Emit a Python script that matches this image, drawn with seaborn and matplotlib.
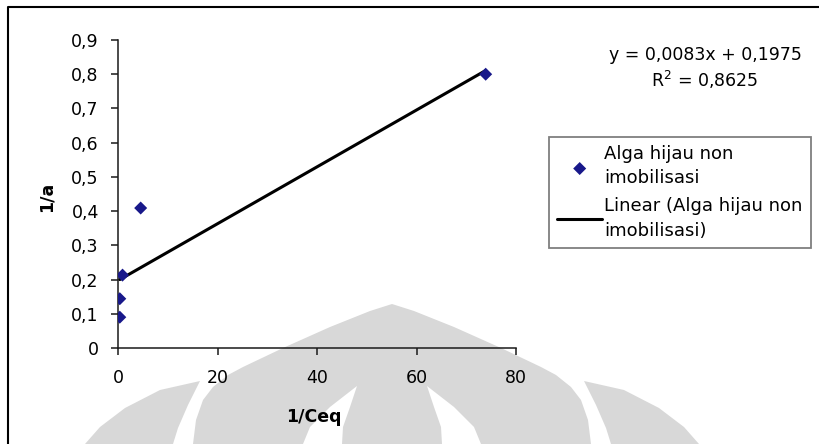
import numpy as np
import matplotlib
matplotlib.use("Agg")
import matplotlib.pyplot as plt
from matplotlib.patches import Polygon
from matplotlib.lines import Line2D
from matplotlib.transforms import Affine2D
import seaborn as sns

# Langmuir linearisation: 1/a against 1/Ceq
inv_ceq = [0.3, 0.3, 0.85, 4.5, 73.9]
inv_a = [0.090, 0.144, 0.213, 0.409, 0.800]

# trendline parameters
slope = 0.0083
intercept = 0.1975
r_squared = 0.8625

x_ticks = [0, 20, 40, 60, 80]
y_ticks = [0.0, 0.1, 0.2, 0.3, 0.4, 0.5, 0.6, 0.7, 0.8, 0.9]
y_tick_labels = ["0", "0,1", "0,2", "0,3", "0,4", "0,5", "0,6", "0,7", "0,8", "0,9"]

series_label = "Alga hijau non\nimobilisasi"
fit_label = "Linear (Alga hijau non\nimobilisasi)"
x_title = "1/Ceq"
y_title = "1/a"

W, H = 819, 444
FS = 12.5

sns.set_style("ticks")
plt.rcParams["font.family"] = ["DejaVu Sans"]
plt.rcParams["text.color"] = "black"
plt.rcParams["axes.labelcolor"] = "black"
plt.rcParams["xtick.color"] = "black"
plt.rcParams["ytick.color"] = "black"
plt.rcParams["mathtext.fontset"] = "dejavusans"

fig = plt.figure(figsize=(W / 100, H / 100), dpi=100)
fig.patch.set_facecolor("white")
# pixel coordinates measured from the top-left corner
px = Affine2D().scale(1 / W, -1 / H).translate(0, 1) + fig.transFigure

# faint emblem in the background
emblem_gray = "#d8d8d8"


def mirror(pts, axis=784):
    return [(axis - x, y) for x, y in pts]


left_leaf = [(85, 444), (100, 427), (125, 408), (160, 390), (200, 381),
             (188, 405), (178, 428), (173, 444)]
dome_half = [(193, 444), (196, 420), (203, 400), (213, 387), (228, 375),
             (243, 367), (283, 348), (330, 327), (370, 311), (392, 304)]
dome = dome_half + mirror(dome_half[:-1])[::-1]
inner_slit = [(303, 444), (310, 427), (330, 407), (357, 386), (350, 407),
              (343, 427), (342, 444)]

for shape in (left_leaf, mirror(left_leaf), dome):
    fig.add_artist(Polygon(shape, closed=True, transform=px, facecolor=emblem_gray,
                           edgecolor="none", zorder=-3))
for shape in (inner_slit, mirror(inner_slit)):
    fig.add_artist(Polygon(shape, closed=True, transform=px, facecolor="white",
                           edgecolor="none", zorder=-2))

# outer frame (top and left edges)
fig.add_artist(Line2D([8.3, 8.3, W], [H, 7.3, 7.3], transform=px,
                      color="black", lw=1.5, zorder=5))

x0, x1, y0, y1 = 118.3, 516.0, 348.0, 40.0
ax = fig.add_axes([x0 / W, 1 - y0 / H, (x1 - x0) / W, (y0 - y1) / H])
ax.patch.set_visible(False)

sns.scatterplot(x=inv_ceq, y=inv_a, ax=ax, marker="D", s=44, color="#18188a",
                edgecolor="none", label=series_label, zorder=4)

fit_x = np.array([min(inv_ceq), max(inv_ceq)])
fit_y = slope * fit_x + intercept
sns.lineplot(x=fit_x, y=fit_y, ax=ax, color="black", lw=2.2, label=fit_label, zorder=3)

ax.set_xlim(0, 80)
ax.set_ylim(0, 0.9)
ax.set_xticks(x_ticks)
ax.set_xticklabels([str(v) for v in x_ticks])
ax.set_yticks(y_ticks)
ax.set_yticklabels(y_tick_labels)

sns.despine(ax=ax)
for side in ("left", "bottom"):
    ax.spines[side].set_linewidth(1.1)
    ax.spines[side].set_color("#1a1a1a")
ax.tick_params(axis="both", direction="out", length=5, width=1.1, color="#1a1a1a",
               labelsize=FS, labelcolor="black")
ax.tick_params(axis="x", pad=10)
ax.tick_params(axis="y", pad=9)

ax.set_xlabel(x_title, fontsize=FS, fontweight="bold")
ax.xaxis.set_label_coords(0.492, -0.195)
ax.set_ylabel(y_title, fontsize=FS, fontweight="bold", va="center")
ax.yaxis.set_label_coords(-0.181, 0.49)

handles, labels = ax.get_legend_handles_labels()
ax.get_legend().remove()
leg = fig.legend(handles, labels, loc="upper left",
                 bbox_to_anchor=(549 / W, 1 - 137 / H), bbox_transform=fig.transFigure,
                 frameon=True, fancybox=False, edgecolor="#7f7f7f", facecolor="white",
                 framealpha=1, fontsize=13, borderpad=0.45, borderaxespad=0,
                 handlelength=2.5, handletextpad=0.12, labelspacing=0.55,
                 scatterpoints=1)
leg.get_frame().set_linewidth(1.3)
for t in leg.get_texts():
    t.set_linespacing(1.45)

eq_text = "y = {:.4f}x + {:.4f}".format(slope, intercept).replace(".", ",")
r2_text = "R$^2$ = {:.4f}".format(r_squared).replace(".", ",")
fig.text(705 / W, 1 - 55 / H, eq_text, ha="center", va="center", fontsize=FS)
fig.text(705 / W, 1 - 80 / H, r2_text, ha="center", va="center", fontsize=FS)

fig.savefig("out.png", dpi=100)
